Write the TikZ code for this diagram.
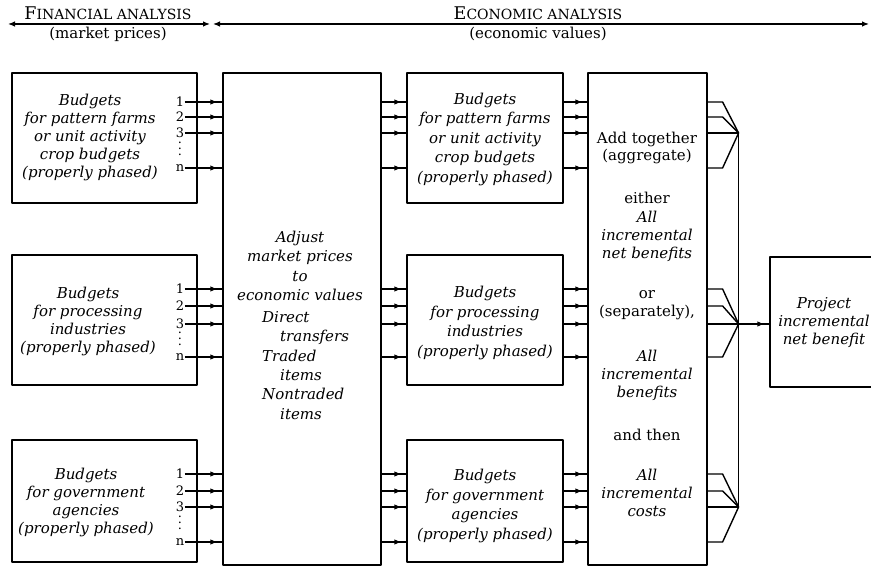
\documentclass[tikz,border=0pt]{standalone}
\usepackage{fontspec}
\setmainfont{DejaVu Serif}
\usetikzlibrary{arrows.meta,calc}
\tikzset{
  box/.style={draw,line width=1.2pt,inner sep=0pt},
  itx/.style={font=\fontsize{15}{18}\selectfont\itshape,align=center,inner sep=0pt},
  upr/.style={font=\fontsize{15}{17.5}\selectfont,align=center,inner sep=0pt},
  head/.style={font=\fontsize{14}{16}\selectfont,inner sep=0pt},
  num/.style={font=\fontsize{13}{13}\selectfont,inner sep=0.5pt},
  feed/.style={line width=1.2pt,postaction={draw,-{Latex[length=7pt,width=5.5pt]},shorten >=5pt}},
  link/.style={line width=1.4pt},
}
\newcommand{\bigF}[1]{{\fontsize{17.5}{16}\selectfont #1}}
\begin{document}
\begin{tikzpicture}[x=1pt,y=-1pt,line join=round,>=stealth]
\useasboundingbox (0,0) rectangle (871,569);
% headings
\node[head] (fin) at (108,13) {\bigF{F}INANCIAL ANALYSIS};
\node[upr] (mkt) at (108,34) {(market prices)};
\node[head] (eco) at (538,13) {\bigF{E}CONOMIC ANALYSIS};
\node[upr] (ecv) at (538,34) {(economic values)};
\coordinate (fa) at (8,24); \coordinate (fb) at (210,24);
\coordinate (ea) at (213,24); \coordinate (eb) at (869,24);
\draw[line width=1.2pt,{Latex[length=7pt,width=5.5pt]}-{Latex[length=7pt,width=5.5pt]}] (fa) -- (fb);
\draw[line width=1.2pt,{Latex[length=7pt,width=5.5pt]}-{Latex[length=7pt,width=5.5pt]}] (ea) -- (eb);
% boxes
\foreach \n/\x/\y/\w/\h in {L1/104.5/138/185/130, L2/104.5/320/185/130, L3/104.5/501/185/122,
    M/302/319/158/492, C1/485/138/156/130, C2/485/320/156/130, C3/485/501/156/122,
    A/647.5/319/119/492, P/824/322/108/130}
  \node[box,minimum width=\w pt,minimum height=\h pt] (\n) at (\x,\y) {};
% financial budgets
\node[itx] (tL1) at (90,137) {Budgets\\for pattern farms\\or unit activity\\crop budgets\\(properly phased)};
\node[itx] (tL2) at (88,321) {Budgets\\for processing\\industries\\(properly phased)};
\node[itx] (tL3) at (86,502) {Budgets\\for government\\agencies\\(properly phased)};
% economic budgets
\node[itx,font=\fontsize{15}{19.5}\selectfont\itshape] (tC1) at (485,139) {Budgets\\for pattern farms\\or unit activity\\crop budgets\\(properly phased)};
\node[itx,font=\fontsize{15}{19.5}\selectfont\itshape] (tC2) at (485,323) {Budgets\\for processing\\industries\\(properly phased)};
\node[itx,font=\fontsize{15}{19.5}\selectfont\itshape] (tC3) at (485,506) {Budgets\\for government\\agencies\\(properly phased)};
% adjustment
\node[itx,font=\fontsize{15}{19.3}\selectfont\itshape] (adj) at (300,266) {Adjust\\market prices\\to\\economic values};
\node[itx,font=\fontsize{15}{19.4}\selectfont\itshape,align=left,anchor=north west] (dir) at (262,311)
  {Direct\\\hspace*{18pt}transfers\\Traded\\\hspace*{18pt}items\\Nontraded\\\hspace*{18pt}items};
% aggregation
\node[upr] (add) at (647,148) {Add together\\(aggregate)};
\node[upr] (either) at (647,198) {either};
\node[itx] (inb) at (647,236) {All\\incremental\\net benefits};
\node[upr] (orsep) at (647,305) {or\\(separately),};
\node[itx] (ib) at (647,375) {All\\incremental\\benefits};
\node[upr] (then) at (647,435) {and then};
\node[itx] (ic) at (647,493) {All\\incremental\\costs};
% project
\node[itx] (tP) at (824,323) {Project\\incremental\\net benefit};
% flows
\foreach \g/\ya/\yb/\yc/\yn in {1/102/117/133/168, 2/289/306/324/357, 3/474/491/507/542}{
  \node[num] (n\g1) at (180,\ya) {1};
  \node[num] (n\g2) at (180,\yb) {2};
  \node[num] (n\g3) at (180,\yc) {3};
  \node[num] (n\g4) at (180,\yn) {n};
  \node[font=\fontsize{13}{6}\selectfont,align=center,inner sep=0pt] (dt\g) at (180,{(\yc+\yn)/2-2}) {.\\.\\.};
  \foreach \k in {1,2,3,4}{
    \draw[feed] (n\g\k.east) -- (M.west|-n\g\k);
    \draw[feed] (M.east|-n\g\k) -- (C\g.west|-n\g\k);
    \draw[feed] (C\g.east|-n\g\k) -- (A.west|-n\g\k);
  }
  \coordinate (j\g) at ($(A.east|-n\g3)+(31,0)$);
  \foreach \k in {1,2,4}
    \draw[link] (A.east|-n\g\k) -- ++(15,0) -- (j\g);
  \draw[link] (A.east|-n\g3) -- (j\g);
}
\draw[link] (j1) -- (j3);
\draw[feed] (j2) -- (P.west|-j2);
\end{tikzpicture}
\end{document}
